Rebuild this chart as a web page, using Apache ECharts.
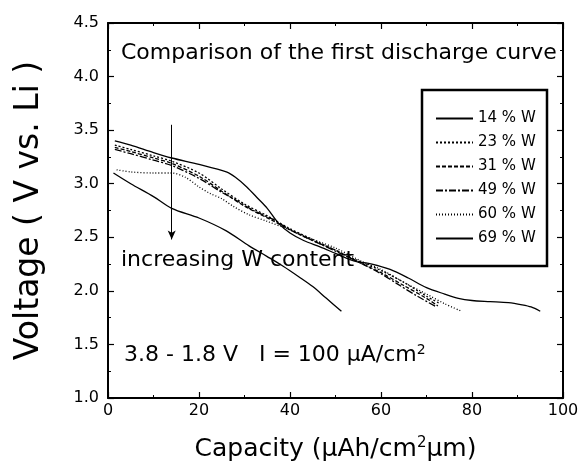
<!DOCTYPE html>
<html>
<head>
<meta charset="utf-8">
<script src="https://cdn.jsdelivr.net/npm/echarts@6/dist/echarts.min.js"></script>
<style>
  html, body { margin: 0; padding: 0; background: #fff; }
  #chart { width: 582px; height: 470px; }
</style>
</head>
<body>
<div id="chart"></div>
<script>
// capacity (uAh/cm2um) and voltage (V)
var cap14 = [1.5, 5, 10, 14, 20, 26, 28, 30.5, 33, 35, 37.5, 40, 43, 46.6, 50, 54, 58, 62, 66, 70, 74, 77, 80, 84, 88, 91, 93, 95];
var v14   = [3.40, 3.36, 3.29, 3.24, 3.18, 3.11, 3.06, 2.97, 2.86, 2.77, 2.63, 2.54, 2.47, 2.41, 2.35, 2.28, 2.25, 2.20, 2.12, 2.03, 1.97, 1.93, 1.91, 1.90, 1.89, 1.87, 1.85, 1.81];
var cap23 = [1.5, 5, 10, 14, 20, 25, 30, 35, 40, 46, 50, 55, 60, 65, 70, 73];
var v23   = [3.36, 3.32, 3.26, 3.21, 3.10, 2.95, 2.81, 2.70, 2.58, 2.46, 2.38, 2.28, 2.19, 2.08, 1.95, 1.88];
var cap31 = [1.5, 5, 10, 14, 20, 25, 30, 36, 40, 46, 50, 55, 60, 65, 70, 72.5];
var v31   = [3.34, 3.30, 3.24, 3.19, 3.07, 2.93, 2.79, 2.66, 2.57, 2.45, 2.38, 2.27, 2.17, 2.05, 1.93, 1.86];
var cap49 = [1.5, 5, 10, 14, 20, 25, 28, 32, 37, 40, 46, 50, 55, 60, 63.4, 68, 72.2];
var v49   = [3.32, 3.28, 3.22, 3.17, 3.05, 2.92, 2.85, 2.75, 2.65, 2.57, 2.45, 2.37, 2.27, 2.16, 2.07, 1.95, 1.85];
var cap60 = [1.9, 5, 10, 14, 17, 20, 22.4, 25, 27.5, 31, 34.9, 39.3, 45, 50, 56, 60, 65, 70, 74, 77.7];
var v60   = [3.13, 3.11, 3.10, 3.10, 3.06, 2.97, 2.91, 2.86, 2.79, 2.71, 2.65, 2.58, 2.48, 2.40, 2.27, 2.20, 2.08, 1.97, 1.88, 1.81];
var cap69 = [1.2, 5, 10, 14, 20, 26, 31, 35, 38.5, 42, 45, 48, 51.3];
var v69   = [3.10, 3.00, 2.88, 2.77, 2.68, 2.56, 2.42, 2.32, 2.23, 2.13, 2.04, 1.93, 1.81];

var names = ['14 % W', '23 % W', '31 % W', '49 % W', '60 % W', '69 % W'];
var caps = [cap14, cap23, cap31, cap49, cap60, cap69];
var volts = [v14, v23, v31, v49, v60, v69];
var dashes = ['solid', [2, 2], [4, 2], [7, 2, 2, 2], [1, 2], 'solid'];

// arrow "increasing W content"
var arrowFrom = [14, 3.55];
var arrowTo = [14, 2.48];

var xTicks = [0, 100, 20];
var yTicks = [1.0, 4.5, 0.5];

var FONT = 'DejaVu Sans';

function pairs(xs, ys) {
  var out = [];
  for (var i = 0; i < xs.length; i++) out.push([xs[i], ys[i]]);
  return out;
}

var series = [];
for (var i = 0; i < names.length; i++) {
  series.push({
    name: names[i],
    type: 'line',
    smooth: 0.3,
    showSymbol: false,
    symbol: 'none',
    data: pairs(caps[i], volts[i]),
    lineStyle: { color: '#000', width: 1.3, type: dashes[i] },
    itemStyle: { color: '#000' }
  });
}
series[0].markLine = {
  silent: true,
  symbol: ['none', 'arrow'],
  symbolSize: [6, 9],
  label: { show: false },
  lineStyle: { color: '#000', width: 1, type: 'solid' },
  data: [[{ coord: arrowFrom }, { coord: arrowTo }]]
};

var axisCommon = {
  axisLine: { show: true, onZero: false, lineStyle: { color: '#000', width: 2 } },
  axisTick: { show: true, inside: true, length: 6, lineStyle: { color: '#000', width: 1.2 } },
  minorTick: { show: true, splitNumber: 2, length: 3, lineStyle: { color: '#000', width: 1 } },
  splitLine: { show: false }
};

var chart = echarts.init(document.getElementById('chart'));
chart.setOption({
  backgroundColor: '#fff',
  animation: false,
  grid: { left: 108, right: 19, top: 23, bottom: 72 },
  xAxis: [
    Object.assign({
      type: 'value', min: xTicks[0], max: xTicks[1], interval: xTicks[2],
      name: 'Capacity (\u03bcAh/cm{s|2}\u03bcm)',
      nameLocation: 'middle', nameGap: 38,
      nameTextStyle: {
        fontFamily: FONT, fontSize: 25, color: '#000',
        rich: { s: { fontSize: 15, verticalAlign: 'top', padding: [0, 0, 12, 0], color: '#000', fontFamily: FONT } }
      },
      axisLabel: { fontFamily: FONT, fontSize: 16, color: '#000', margin: 5 }
    }, axisCommon),
    Object.assign({
      type: 'value', position: 'top', min: xTicks[0], max: xTicks[1], interval: xTicks[2],
      axisLabel: { show: false }
    }, axisCommon)
  ],
  yAxis: [
    Object.assign({
      type: 'value', min: yTicks[0], max: yTicks[1], interval: yTicks[2],
      name: 'Voltage ( V vs. Li )',
      nameLocation: 'middle', nameGap: 62, nameRotate: 90,
      nameTextStyle: { fontFamily: FONT, fontSize: 33, color: '#000' },
      axisLabel: {
        fontFamily: FONT, fontSize: 16, color: '#000', margin: 9,
        formatter: function (v) { return v.toFixed(1); }
      }
    }, axisCommon),
    Object.assign({
      type: 'value', position: 'right', min: yTicks[0], max: yTicks[1], interval: yTicks[2],
      axisLabel: { show: false }
    }, axisCommon)
  ],
  legend: {
    data: names,
    orient: 'vertical',
    left: 435, top: 111,
    padding: 0,
    itemWidth: 37, itemHeight: 14, itemGap: 9,
    itemStyle: { opacity: 0, borderWidth: 0 },
    textStyle: { fontFamily: FONT, fontSize: 15, color: '#000' },
    z: 10
  },
  graphic: [
    {
      type: 'rect', z: 5,
      shape: { x: 422, y: 90, width: 125, height: 176 },
      style: { fill: '#fff', stroke: '#000', lineWidth: 2.5 }
    },
    {
      type: 'text', left: 121, top: 42, z: 6,
      style: { text: 'Comparison of the first discharge curve', fontFamily: FONT, fontSize: 22, fill: '#000' }
    },
    {
      type: 'text', left: 121, top: 249, z: 6,
      style: { text: 'increasing W content', fontFamily: FONT, fontSize: 22, fill: '#000' }
    },
    {
      type: 'text', left: 124, top: 343, z: 6,
      style: {
        text: '3.8 - 1.8 V   I = 100 \u03bcA/cm{s|2}',
        fontFamily: FONT, fontSize: 22, fill: '#000',
        rich: { s: { fontSize: 14, verticalAlign: 'top', padding: [0, 0, 10, 0], fill: '#000', fontFamily: FONT } }
      }
    }
  ],
  series: series
});
</script>
</body>
</html>
